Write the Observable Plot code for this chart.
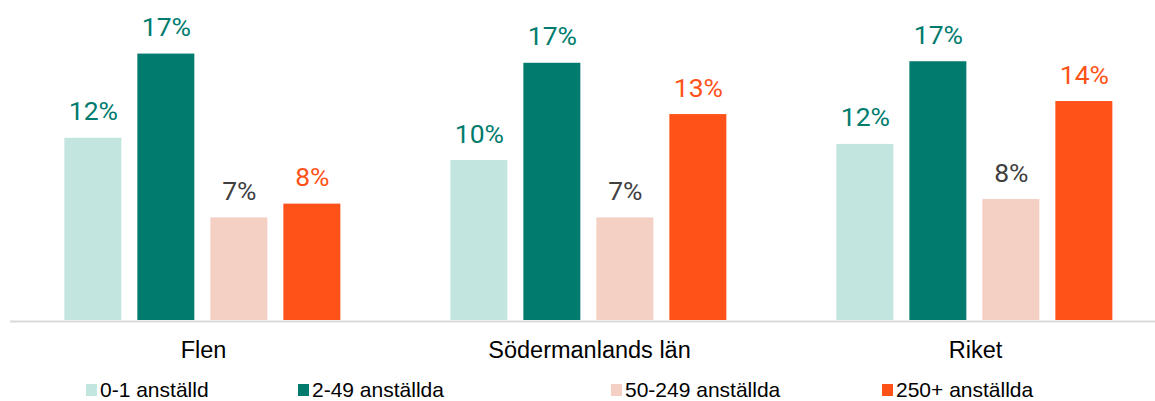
<!DOCTYPE html>
<html><head><meta charset="utf-8">
<script src="https://cdn.jsdelivr.net/npm/d3@7"></script>
<script src="https://cdn.jsdelivr.net/npm/@observablehq/plot@0.6"></script>
<style>
body{margin:0;background:#fff;}
#chart{position:relative;width:1155px;height:401px;overflow:hidden;background:#fff}
.legend{position:absolute;top:372px;left:0;width:1155px;height:29px;font-family:"Liberation Sans",Arial,sans-serif;font-size:21px;color:#000}
.item{position:absolute;top:8px;height:22px;line-height:20px;white-space:nowrap}
.sw{position:absolute;left:0;top:4px;width:11px;height:12px}
.lab{position:absolute;left:14px;top:0}
</style>
</head><body>
<div id="chart"></div>
<script>
const regions = ["Flen", "Södermanlands län", "Riket"];
const series = ["0-1 anställd", "2-49 anställda", "50-249 anställda", "250+ anställda"];
const flen = [11.9, 17.4, 6.7, 7.6];
const sodermanland = [10.45, 16.8, 6.7, 13.45];
const riket = [11.5, 16.9, 7.9, 14.3];
const barColors = ["#C2E5E0", "#007B6D", "#F4D0C4", "#FF5218"];
const labelColors = ["#007B6D", "#007B6D", "#404040", "#FF5218"];
const legendLefts = [86, 298, 611, 882];

const valuesByRegion = [flen, sodermanland, riket];
const data = [];
regions.forEach((r, i) => series.forEach((s, j) => data.push({region: r, series: s, value: valuesByRegion[i][j]})));

const chart = Plot.plot({
  width: 1155,
  height: 372,
  marginTop: 0,
  marginBottom: 52,
  marginLeft: 8.65,
  marginRight: -13.7,
  style: {fontFamily: "'Liberation Sans', Arial, sans-serif", background: "#fff", overflow: "hidden"},
  fx: {domain: regions, paddingInner: 0, paddingOuter: 0, label: null},
  x: {domain: series, paddingInner: 0.213, paddingOuter: 0.744, axis: null},
  y: {domain: [0, 20.9], axis: null},
  color: {domain: series, range: barColors},
  marks: [
    Plot.barY(data, {fx: "region", x: "series", y: "value", fill: "series"}),
    Plot.ruleY([0], {stroke: "#D9D9D9", strokeWidth: 2, dy: 1}),
    Plot.text(data, {
      fx: "region", x: "series", y: "value",
      text: d => Math.round(d.value) + "%",
      fill: d => labelColors[series.indexOf(d.series)],
      lineAnchor: "bottom", dy: -18,
      fontSize: 26.5, fontFamily: "Roboto"
    }),
    Plot.axisFx({anchor: "bottom", tickSize: 0, tickPadding: 21, fontSize: 23.5, label: null, fill: "#000"})
  ]
});
const root = document.getElementById("chart");
root.appendChild(chart);

const legend = document.createElement("div");
legend.className = "legend";
series.forEach((s, i) => {
  const item = document.createElement("div");
  item.className = "item";
  item.style.left = legendLefts[i] + "px";
  const sw = document.createElement("span");
  sw.className = "sw";
  sw.style.background = barColors[i];
  const lab = document.createElement("span");
  lab.className = "lab";
  lab.textContent = s;
  item.appendChild(sw);
  item.appendChild(lab);
  legend.appendChild(item);
});
root.appendChild(legend);
</script>
</body></html>
